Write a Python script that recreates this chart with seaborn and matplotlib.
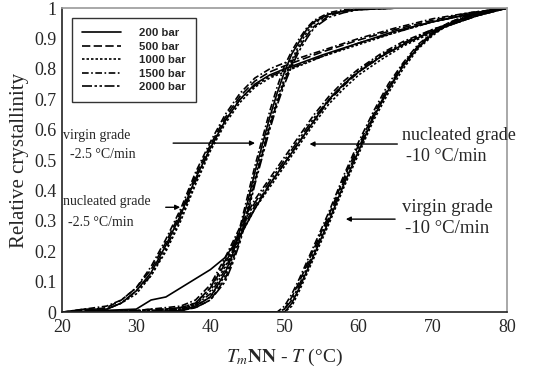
import numpy as np
import pandas as pd
import matplotlib
matplotlib.use("Agg")
import matplotlib.pyplot as plt
import seaborn as sns

# pressures and line styles (legend order)
pressures = ["200 bar", "500 bar", "1000 bar", "1500 bar", "2000 bar"]

# nucleated grade, -2.5 C/min
x_nuc25 = [20, 23, 26, 28, 30, 32, 34, 36, 38, 40, 42, 44, 46, 48, 50, 55, 60, 65, 70, 75, 80]
y_nuc25 = {
    "200 bar":  [0, 0.01, 0.01, 0.03, 0.07, 0.13, 0.22, 0.32, 0.44, 0.54, 0.63, 0.70, 0.75, 0.78, 0.80, 0.845, 0.885, 0.925, 0.955, 0.98, 1.0],
    "500 bar":  [0, 0.005, 0.015, 0.04, 0.08, 0.14, 0.23, 0.33, 0.45, 0.55, 0.64, 0.71, 0.76, 0.79, 0.81, 0.855, 0.895, 0.93, 0.96, 0.985, 1.0],
    "1000 bar": [0, 0.0, 0.01, 0.03, 0.06, 0.12, 0.20, 0.30, 0.42, 0.53, 0.62, 0.69, 0.74, 0.77, 0.79, 0.84, 0.88, 0.92, 0.955, 0.98, 1.0],
    "1500 bar": [0, 0.01, 0.02, 0.04, 0.08, 0.15, 0.24, 0.34, 0.46, 0.56, 0.65, 0.72, 0.77, 0.80, 0.82, 0.86, 0.90, 0.935, 0.965, 0.985, 1.0],
    "2000 bar": [0, 0.005, 0.01, 0.03, 0.07, 0.12, 0.21, 0.31, 0.43, 0.54, 0.63, 0.70, 0.745, 0.775, 0.795, 0.84, 0.885, 0.92, 0.955, 0.98, 1.0],
}

# virgin grade, -2.5 C/min
x_vir25 = [20, 30, 36, 38, 40, 42, 43, 44, 45, 46, 47, 48, 49, 50, 51, 52, 53, 54, 56, 58, 60, 65, 70, 80]
y_vir25 = {
    "200 bar":  [0, 0, 0.005, 0.02, 0.05, 0.13, 0.19, 0.27, 0.36, 0.46, 0.55, 0.64, 0.72, 0.79, 0.85, 0.89, 0.93, 0.955, 0.98, 0.99, 0.995, 1.0, 1.0, 1.0],
    "500 bar":  [0, 0, 0.005, 0.015, 0.04, 0.11, 0.17, 0.24, 0.33, 0.43, 0.52, 0.61, 0.69, 0.76, 0.82, 0.87, 0.91, 0.94, 0.975, 0.99, 0.995, 1.0, 1.0, 1.0],
    "1000 bar": [0, 0, 0.005, 0.02, 0.05, 0.12, 0.18, 0.25, 0.34, 0.44, 0.53, 0.62, 0.70, 0.77, 0.83, 0.88, 0.92, 0.95, 0.98, 0.99, 1.0, 1.0, 1.0, 1.0],
    "1500 bar": [0, 0, 0.01, 0.025, 0.06, 0.14, 0.20, 0.28, 0.38, 0.48, 0.57, 0.66, 0.74, 0.81, 0.86, 0.90, 0.935, 0.96, 0.985, 0.995, 1.0, 1.0, 1.0, 1.0],
    "2000 bar": [0, 0, 0.005, 0.015, 0.04, 0.10, 0.16, 0.23, 0.32, 0.42, 0.51, 0.60, 0.68, 0.75, 0.81, 0.86, 0.90, 0.935, 0.97, 0.985, 0.995, 1.0, 1.0, 1.0],
}

# nucleated grade, -10 C/min
x_nuc10 = [20, 30, 32, 34, 36, 38, 40, 42, 44, 46, 48, 50, 52, 54, 56, 58, 60, 63, 66, 70, 73, 76, 80]
y_nuc10 = {
    "200 bar":  [0, 0.01, 0.04, 0.05, 0.08, 0.11, 0.14, 0.18, 0.25, 0.34, 0.42, 0.49, 0.56, 0.63, 0.70, 0.75, 0.79, 0.84, 0.88, 0.925, 0.95, 0.975, 1.0],
    "500 bar":  [0, 0.005, 0.01, 0.01, 0.015, 0.03, 0.08, 0.16, 0.26, 0.35, 0.42, 0.49, 0.56, 0.63, 0.695, 0.745, 0.79, 0.84, 0.88, 0.925, 0.95, 0.975, 1.0],
    "1000 bar": [0, 0.005, 0.005, 0.01, 0.01, 0.025, 0.07, 0.15, 0.25, 0.34, 0.41, 0.48, 0.55, 0.62, 0.685, 0.735, 0.78, 0.83, 0.875, 0.92, 0.95, 0.975, 1.0],
    "1500 bar": [0, 0.005, 0.01, 0.015, 0.02, 0.04, 0.09, 0.18, 0.28, 0.37, 0.44, 0.51, 0.58, 0.65, 0.71, 0.76, 0.80, 0.85, 0.89, 0.93, 0.955, 0.98, 1.0],
    "2000 bar": [0, 0.005, 0.005, 0.01, 0.015, 0.03, 0.08, 0.17, 0.27, 0.36, 0.43, 0.50, 0.57, 0.64, 0.70, 0.75, 0.795, 0.845, 0.885, 0.93, 0.955, 0.98, 1.0],
}

# virgin grade, -10 C/min
x_vir10 = [20, 49, 50, 51, 52, 54, 56, 58, 60, 62, 64, 66, 68, 70, 72, 75, 78, 80]
y_vir10 = {
    "200 bar":  [0, 0, 0.0, 0.03, 0.08, 0.19, 0.30, 0.42, 0.53, 0.64, 0.73, 0.81, 0.87, 0.915, 0.945, 0.975, 0.99, 1.0],
    "500 bar":  [0, 0, 0.01, 0.05, 0.10, 0.21, 0.32, 0.44, 0.55, 0.65, 0.74, 0.815, 0.875, 0.92, 0.95, 0.98, 0.995, 1.0],
    "1000 bar": [0, 0, 0.0, 0.02, 0.07, 0.18, 0.29, 0.41, 0.52, 0.63, 0.72, 0.80, 0.865, 0.91, 0.945, 0.975, 0.99, 1.0],
    "1500 bar": [0, 0, 0.02, 0.06, 0.11, 0.22, 0.33, 0.45, 0.56, 0.66, 0.75, 0.82, 0.88, 0.92, 0.95, 0.98, 0.995, 1.0],
    "2000 bar": [0, 0, 0.01, 0.04, 0.09, 0.20, 0.31, 0.43, 0.54, 0.645, 0.735, 0.81, 0.87, 0.915, 0.945, 0.975, 0.99, 1.0],
}

x_ticks = [20, 30, 40, 50, 60, 70, 80]
y_ticks = [0, 0.1, 0.2, 0.3, 0.4, 0.5, 0.6, 0.7, 0.8, 0.9, 1.0]
y_tick_labels = ["0", "0.1", "0.2", "0.3", "0.4", "0.5", "0.6", "0.7", "0.8", "0.9", "1"]

# long table for seaborn
groups = [("nuc25", x_nuc25, y_nuc25), ("vir25", x_vir25, y_vir25),
          ("nuc10", x_nuc10, y_nuc10), ("vir10", x_vir10, y_vir10)]
rows = []
for g, xs, ys in groups:
    for p in pressures:
        for xv, yv in zip(xs, ys[p]):
            rows.append({"T": xv, "X": yv, "pressure": p, "run": g + p})
df = pd.DataFrame(rows)

sns.set_style("white")
plt.rcParams["font.family"] = ["Liberation Serif", "DejaVu Serif"]
plt.rcParams["mathtext.fontset"] = "stix"

dash_map = {"200 bar": "", "500 bar": (5, 2), "1000 bar": (1.5, 1.2),
            "1500 bar": (4, 1.5, 1, 1.5), "2000 bar": (6, 1.5, 1.5, 1.5, 1.5, 1.5)}

fig = plt.figure(figsize=(5.45, 3.69), dpi=100)
ax = fig.add_axes([0.114, 0.154, 0.816, 0.824])

sns.lineplot(data=df, x="T", y="X", style="pressure", style_order=pressures,
             units="run", estimator=None, sort=False, color="black",
             dashes=dash_map, lw=1.2, ax=ax)

ax.set_xlim(20, 80)
ax.set_ylim(0, 1)
ax.set_xticks(x_ticks)
ax.set_yticks(y_ticks)
ax.set_yticklabels(y_tick_labels)
ax.tick_params(direction="in", length=2.5, labelsize=13)
ax.tick_params(axis="x", pad=5)
ax.tick_params(axis="y", pad=4)
ax.set_xlabel(r"$T_m$$\mathbf{NN}$ - $T$ (°C)", fontsize=14, labelpad=8)
ax.set_ylabel("Relative crystallinity", fontsize=15, labelpad=4)
for s in ["left", "bottom"]:
    ax.spines[s].set_color("#222222")
    ax.spines[s].set_linewidth(1.2)
for s in ["top", "right"]:
    ax.spines[s].set_color("#999999")
    ax.spines[s].set_linewidth(1.2)

# legend box at upper left
handles, labels = ax.get_legend_handles_labels()
leg = ax.legend(handles, labels, loc="upper left", bbox_to_anchor=(0.022, 0.967),
                borderaxespad=0, frameon=True, fancybox=False, handlelength=3.4,
                labelspacing=0.3, borderpad=0.9, handletextpad=1.6,
                prop={"family": "Liberation Sans", "size": 8.2, "weight": "bold"})
leg.get_frame().set_edgecolor("black")
leg.get_frame().set_linewidth(1.0)

# labels with arrows
ax.text(20.1, 0.582, "virgin grade", fontsize=10, va="center")
ax.text(21.0, 0.52, "-2.5 °C/min", fontsize=10, va="center")
ax.text(20.1, 0.365, "nucleated grade", fontsize=10, va="center")
ax.text(20.8, 0.296, "-2.5 °C/min", fontsize=10, va="center")
ax.text(65.9, 0.582, "nucleated grade", fontsize=13, va="center")
ax.text(66.4, 0.513, "-10 °C/min", fontsize=13, va="center")
ax.text(65.8, 0.345, "virgin grade", fontsize=13.5, va="center")
ax.text(66.2, 0.276, "-10 °C/min", fontsize=13.5, va="center")

arrow = dict(arrowstyle="-|>", color="black", lw=1.0, mutation_scale=7)
ax.annotate("", xy=(46.4, 0.556), xytext=(34.6, 0.556), arrowprops=arrow)
ax.annotate("", xy=(36.3, 0.345), xytext=(33.6, 0.345), arrowprops=arrow)
ax.annotate("", xy=(53.0, 0.553), xytext=(65.6, 0.553), arrowprops=arrow)
ax.annotate("", xy=(57.9, 0.306), xytext=(65.3, 0.306), arrowprops=arrow)

fig.savefig("out.png", dpi=100)
